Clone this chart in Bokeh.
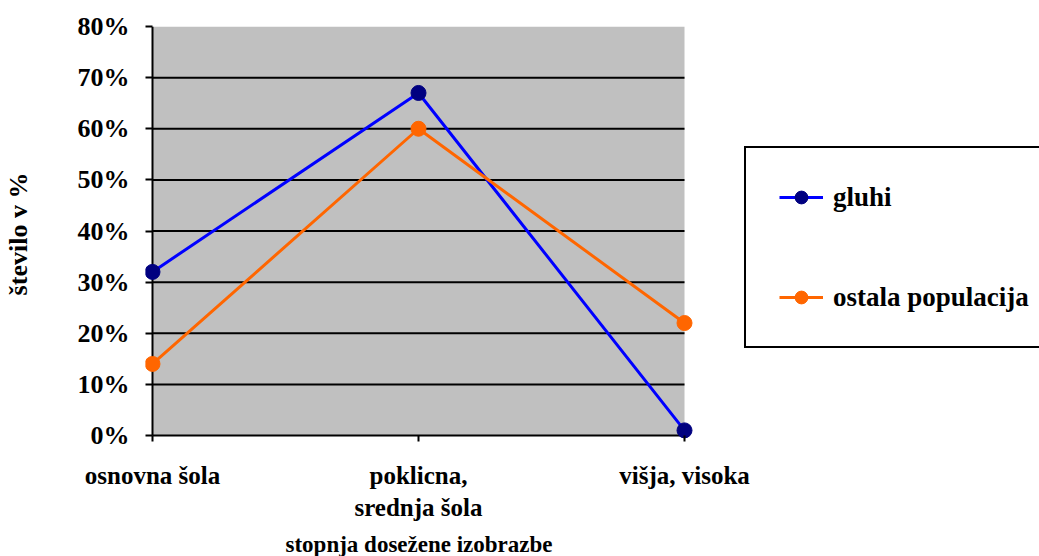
from bokeh.plotting import figure
from bokeh.models import (Range1d, FixedTicker, Legend, LegendItem, BoxAnnotation, Title,
                          LinearAxis)
from bokeh.embed import file_html
from bokeh.resources import INLINE

categories = ["osnovna šola", "poklicna,\nsrednja šola", "višja, visoka"]
gluhi = [32, 67, 1]
ostala = [14, 60, 22]
y_ticks = [0, 10, 20, 30, 40, 50, 60, 70, 80]
x_pos = list(range(len(categories)))

FONT = "Liberation Serif"

# layout geometry (pixels)
FRAME_LEFT, FRAME_TOP = 144, 26
FRAME_W, FRAME_H = 895, 415
PX_PER_X = 266.0          # pixels per category step
PX_PER_Y = 409.0 / 80.0   # pixels per percent
AXIS_OFFSET_X = 7         # grey area starts 7px right of frame edge
YLABEL_CENTER = 0.472     # fraction of frame height (from bottom) for y title centre

x_start = x_pos[0] - AXIS_OFFSET_X / PX_PER_X
x_end = x_start + FRAME_W / PX_PER_X
y_end = y_ticks[-1]
y_start = y_end - FRAME_H / PX_PER_Y

p = figure(frame_width=FRAME_W, frame_height=FRAME_H, output_backend="svg",
           toolbar_location=None,
           x_range=Range1d(x_start, x_end), y_range=Range1d(y_start, y_end),
           min_border_left=FRAME_LEFT, min_border_right=0, min_border_top=FRAME_TOP,
           min_border_bottom=100, background_fill_color="white",
           border_fill_color="white", outline_line_color=None)
p.extra_y_ranges = {"ylab": Range1d(0, 1)}

# grey plot area
p.add_layout(BoxAnnotation(left=x_pos[0], right=x_pos[-1], bottom=y_ticks[0], top=y_ticks[-1],
                           fill_color="#C0C0C0", fill_alpha=1.0, line_color=None,
                           level="underlay"))

# horizontal grid lines
gy = y_ticks[1:-1]
p.segment(x0=[x_pos[0]] * len(gy), x1=[x_pos[-1]] * len(gy), y0=gy, y1=gy,
          line_color="black", line_width=2)
# axis lines
p.segment(x0=[x_pos[0], x_pos[0]], x1=[x_pos[-1], x_pos[0]],
          y0=[y_ticks[0], y_ticks[0]], y1=[y_ticks[0], y_ticks[-1]],
          line_color="black", line_width=2)

# axes
p.xaxis.ticker = FixedTicker(ticks=x_pos)
p.xaxis.major_label_overrides = {i: c for i, c in zip(x_pos, categories)}
p.yaxis.ticker = FixedTicker(ticks=y_ticks)
p.yaxis.major_label_overrides = {v: f"{v}%" for v in y_ticks}

for ax in (p.xaxis, p.yaxis):
    ax.axis_line_color = None
    ax.major_tick_line_color = "black"
    ax.major_tick_line_width = 2
    ax.major_tick_out = 0
    ax.minor_tick_line_color = None
    ax.major_label_text_font = FONT
    ax.major_label_text_font_style = "bold"
    ax.major_label_text_color = "black"

p.yaxis.major_tick_in = 7
p.yaxis.major_label_text_font_size = "26px"
p.yaxis.major_label_standoff = 16

p.xaxis.major_tick_in = 6
p.xaxis.major_label_text_font_size = "25px"
p.xaxis.major_label_standoff = 20

p.xgrid.grid_line_color = None
p.ygrid.grid_line_color = None

# y axis title on an auxiliary axis (allows shifting its vertical centre)
ylab_axis = LinearAxis(y_range_name="ylab", ticker=FixedTicker(ticks=[]),
                       bounds=(0, 2 * YLABEL_CENTER),
                       axis_line_color=None, major_tick_line_color=None,
                       minor_tick_line_color=None, major_tick_out=0, major_tick_in=0,
                       minor_tick_out=0, major_label_standoff=0,
                       axis_label="število v %", axis_label_standoff=42,
                       axis_label_text_font=FONT, axis_label_text_font_style="bold",
                       axis_label_text_font_size="26px", axis_label_text_color="black")
p.add_layout(ylab_axis, "left")

xtitle = Title(text="stopnja dosežene izobrazbe", align="left", offset=140,
               text_font=FONT, text_font_style="bold", text_font_size="23px",
               text_color="black", standoff=13)
p.add_layout(xtitle, "below")

# series
l1 = p.line(x_pos, gluhi, line_color="#0000FF", line_width=3)
s1 = p.scatter(x_pos, gluhi, size=15, fill_color="#000080", line_color="#000080")
l2 = p.line(x_pos, ostala, line_color="#FF6600", line_width=3)
s2 = p.scatter(x_pos, ostala, size=15, fill_color="#FF6600", line_color="#FF6600")

legend = Legend(items=[LegendItem(label="gluhi", renderers=[l1, s1]),
                       LegendItem(label="ostala populacija", renderers=[l2, s2])],
                location=(599, 93), orientation="vertical")
legend.margin = 0
legend.padding = 33
legend.spacing = 68
legend.glyph_width = 44
legend.glyph_height = 32
legend.label_height = 32
legend.label_standoff = 10
legend.label_text_font = FONT
legend.label_text_font_style = "bold"
legend.label_text_font_size = "27px"
legend.label_text_color = "black"
legend.border_line_color = "black"
legend.border_line_alpha = 1.0
legend.border_line_width = 2
legend.background_fill_color = "white"
legend.background_fill_alpha = 1.0
p.add_layout(legend, "center")

open("out.html", "w").write(file_html(p, INLINE))
